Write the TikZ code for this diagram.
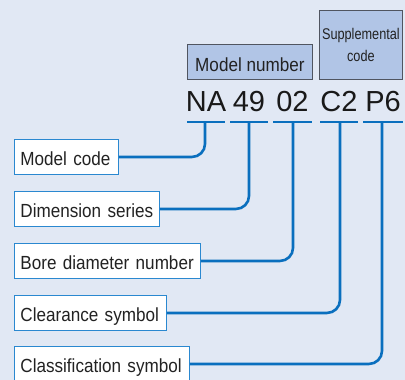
\documentclass[tikz,border=0pt]{standalone}
\usepackage{fontspec}
\setmainfont{Liberation Sans}[FakeStretch=0.9]
\newfontfamily\bigf{Liberation Sans}
\newfontfamily\condf{Liberation Sans}[FakeStretch=0.82]
\definecolor{bgc}{HTML}{E1E8F4}
\definecolor{hdfill}{HTML}{B1C5E6}
\definecolor{hdline}{HTML}{505560}
\definecolor{conncol}{HTML}{0A6FBE}
\definecolor{boxline}{HTML}{2A88D0}
\definecolor{txt}{HTML}{222222}
\tikzset{
  lab/.style={draw=boxline, line width=0.9pt, fill=white, anchor=north west,
    minimum height=35pt, inner xsep=6pt, inner ysep=0pt, align=left,
    text height=17pt, text depth=0pt, text=txt,
    font=\fontsize{19}{22}\selectfont},
  head/.style={draw=hdline, line width=0.8pt, fill=hdfill, anchor=north west,
    inner sep=0pt, text=txt},
  big/.style={anchor=base, inner sep=0pt, text=black!90,
    font=\bigf\fontsize{29}{32}\selectfont},
  conn/.style={draw=conncol, line width=2.6pt, rounded corners=13pt},
  bar/.style={draw=conncol, line width=2.6pt}
}
\begin{document}
\begin{tikzpicture}[x=1pt,y=-1pt]
\useasboundingbox (0,0) rectangle (405,380);
\fill[bgc] (0,0) rectangle (405,380);
\begin{scope}
\clip (0,0) rectangle (405,380);
% header boxes
\node[head, minimum width=125pt, minimum height=35pt, text height=19pt, text depth=0pt,
  font=\fontsize{19}{22}\selectfont] (mn) at (187,44) {Model number};
\node[head, minimum width=83pt, minimum height=69pt, align=center,
  font=\condf\fontsize{15.5}{22}\selectfont] (sc) at (319,10) {Supplemental\\code};
% big code text
\node[big] (na) at (206,111) {NA};
\node[big] (n49) at (249,111) {49};
\node[big] (n02) at (292.5,111) {02};
\node[big] (c2) at (339,111) {C2};
\node[big] (p6) at (383,111) {P6};
% bars
\coordinate (b1l) at (187,122); \coordinate (b1r) at (225,122);
\coordinate (b2l) at (230,122); \coordinate (b2r) at (268,122);
\coordinate (b3l) at (273,122); \coordinate (b3r) at (312,122);
\coordinate (b4l) at (320,122); \coordinate (b4r) at (358,122);
\coordinate (b5l) at (363,122); \coordinate (b5r) at (403,122);
\coordinate (t1) at (205,122);
\coordinate (t2) at (249,122);
\coordinate (t3) at (293,122);
\coordinate (t4) at (340,122);
\coordinate (t5) at (382,122);
% labels
\node[lab, minimum width=104pt, text width=92pt] (mc) at (14,139) {Model code};
\node[lab, minimum width=145pt, text width=133pt] (ds) at (14,191) {Dimension series};
\node[lab, minimum width=186pt, text width=174pt] (bd) at (14,243) {Bore diameter number};
\node[lab, minimum width=152pt, text width=140pt] (cs) at (14,295) {Clearance symbol};
\node[lab, minimum width=175pt, text width=163pt] (cl) at (14,346) {Classification symbol};
% connectors
\draw[conn] (mc.east) -| (t1);
\draw[conn] (ds.east) -| (t2);
\draw[conn] (bd.east) -| (t3);
\draw[conn] (cs.east) -| (t4);
\draw[conn] (cl.east) -| (t5);
\draw[bar] (b1l) -- (b1r);
\draw[bar] (b2l) -- (b2r);
\draw[bar] (b3l) -- (b3r);
\draw[bar] (b4l) -- (b4r);
\draw[bar] (b5l) -- (b5r);
\end{scope}
\end{tikzpicture}
\end{document}
